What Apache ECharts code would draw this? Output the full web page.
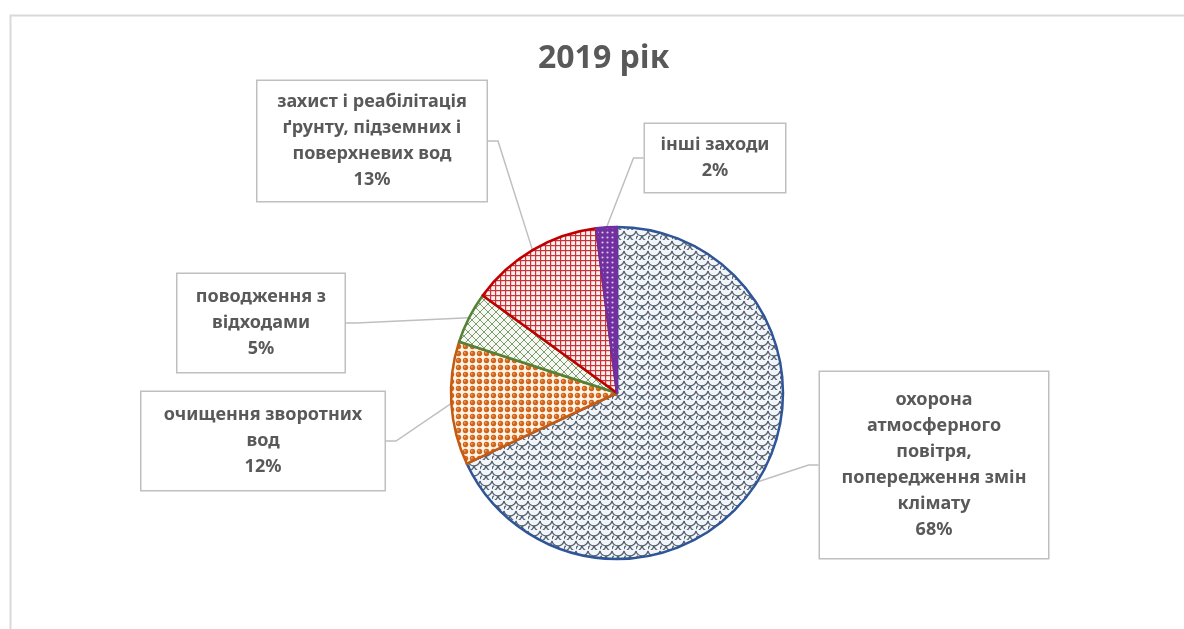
<!DOCTYPE html>
<html>
<head>
<meta charset="utf-8">
<script src="https://cdn.jsdelivr.net/npm/echarts@6/dist/echarts.min.js"></script>
<style>
  html, body { margin: 0; padding: 0; background: #fff; }
  #chart { width: 1184px; height: 629px; }
</style>
</head>
<body>
<div id="chart"></div>
<script>
// ---- data ----
const title = '2019 рік';
const categories = [
  'охорона\nатмосферного\nповітря,\nпопередження змін\nклімату',
  'очищення зворотних\nвод',
  'поводження з\nвідходами',
  'захист і реабілітація\nґрунту, підземних і\nповерхневих вод',
  'інші заходи'
];
const values = [68, 12, 5, 13, 2];

// ---- styles ----
const borderColors = ['#2f5597', '#c55a11', '#548235', '#c00000', '#7030a0'];
const boxWidths = [228, 243, 167, 229, 140];
const boxPadV = [15, 10, 10, 8, 8];
const boxCenters = [[934, 465], [263, 441], [261, 323], [372, 141], [715, 158]];

function tile(w, h, draw) {
  const c = document.createElement('canvas');
  c.width = w; c.height = h;
  draw(c.getContext('2d'), w, h);
  return { image: c, repeat: 'repeat' };
}
const patterns = [
  tile(12, 10, (g, w, h) => {
    g.fillStyle = '#f2f6fa'; g.fillRect(0, 0, w, h);
    g.strokeStyle = '#56616e'; g.lineWidth = 1.3;
    g.beginPath(); g.arc(6, 0, 6, 0.15, Math.PI - 0.15); g.stroke();
    g.beginPath(); g.arc(0, 5, 6, 0.15, Math.PI / 2); g.stroke();
    g.beginPath(); g.arc(12, 5, 6, Math.PI / 2, Math.PI - 0.15); g.stroke();
    g.beginPath(); g.arc(6, 10, 6, Math.PI + 0.15, Math.PI * 1.25); g.stroke();
  }),
  tile(7, 7, (g, w, h) => {
    g.fillStyle = '#fff4e6'; g.fillRect(0, 0, w, h);
    g.fillStyle = '#d0651c';
    g.beginPath(); g.arc(3.5, 3.5, 2.7, 0, Math.PI * 2); g.fill();
    g.fillStyle = '#f2a36b';
    g.beginPath(); g.arc(2.8, 2.8, 0.9, 0, Math.PI * 2); g.fill();
  }),
  tile(8, 8, (g, w, h) => {
    g.fillStyle = '#f5f9f1'; g.fillRect(0, 0, w, h);
    g.strokeStyle = '#7f9a72'; g.lineWidth = 1;
    g.beginPath(); g.moveTo(0, 0); g.lineTo(8, 8); g.stroke();
    g.beginPath(); g.moveTo(8, 0); g.lineTo(0, 8); g.stroke();
  }),
  tile(5, 5, (g, w, h) => {
    g.fillStyle = '#fdf1ee'; g.fillRect(0, 0, w, h);
    g.fillStyle = '#c8343a';
    g.fillRect(0, 0, w, 1.2); g.fillRect(0, 0, 1.2, h);
  }),
  tile(5, 5, (g, w, h) => {
    g.fillStyle = '#7030a0'; g.fillRect(0, 0, w, h);
    g.fillStyle = '#d9c4ea';
    g.beginPath(); g.arc(2.5, 2.5, 1.1, 0, Math.PI * 2); g.fill();
  })
];

const chart = echarts.init(document.getElementById('chart'), null, { renderer: 'canvas' });
const data = values.map((v, i) => ({
  name: categories[i],
  value: v,
  itemStyle: { color: patterns[i], borderColor: borderColors[i], borderWidth: 2.5 },
  label: { width: boxWidths[i], padding: [boxPadV[i], 0] }
}));

chart.setOption({
  animation: false,
  backgroundColor: '#ffffff',
  graphic: [{
    type: 'rect', left: 8, top: 13, silent: true,
    shape: { width: 1220, height: 660 },
    style: { fill: 'none', stroke: '#d9d9d9', lineWidth: 2 }
  }],
  title: {
    text: title, left: 533, top: 38,
    textStyle: { fontFamily: 'Noto Sans', fontWeight: 'bold', fontSize: 32, color: '#595959' }
  },
  series: [{
    type: 'pie',
    center: [617, 393],
    radius: 166,
    startAngle: 90,
    clockwise: true,
    data: data,
    label: {
      show: true,
      position: 'outside',
      formatter: '{b}\n{d}%',
      fontFamily: 'Noto Sans',
      fontWeight: 'bold',
      fontSize: 18,
      lineHeight: 26,
      color: '#595959',
      align: 'center',
      backgroundColor: '#ffffff',
      borderColor: '#bfbfbf',
      borderWidth: 1.5
    },
    labelLine: {
      show: true,
      length: 20, length2: 10,
      lineStyle: { color: '#bfbfbf', width: 1.5 }
    },
    labelLayout: function (params) {
      const c = boxCenters[params.dataIndex];
      return { x: c[0], y: c[1], align: 'center', verticalAlign: 'middle' };
    },
    emphasis: { disabled: true }
  }]
});
</script>
</body>
</html>
